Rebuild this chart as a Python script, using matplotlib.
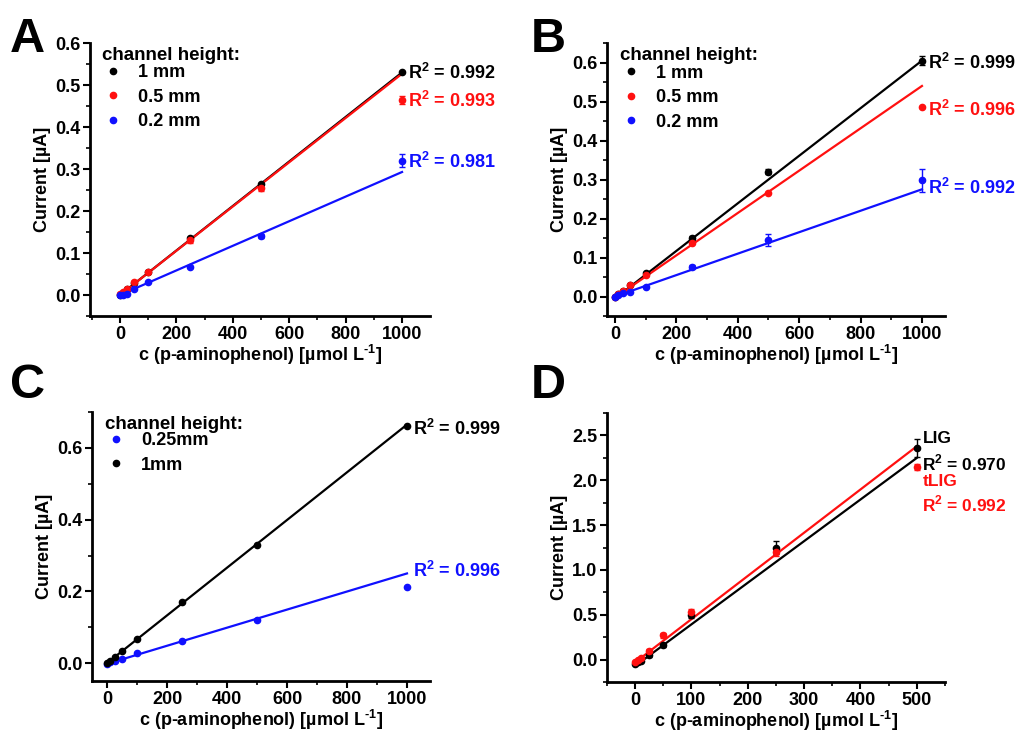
import matplotlib
matplotlib.use("Agg")
import matplotlib.pyplot as plt
from matplotlib.ticker import MultipleLocator, AutoMinorLocator
import numpy as np

plt.rcParams['font.family'] = ['Liberation Sans', 'DejaVu Sans']
plt.rcParams['font.weight'] = 'bold'
plt.rcParams['axes.labelweight'] = 'bold'
plt.rcParams['mathtext.fontset'] = 'custom'
plt.rcParams['mathtext.rm'] = 'Liberation Sans:bold'
plt.rcParams['mathtext.bf'] = 'Liberation Sans:bold'

# concentrations (umol/L)
conc = [0, 10, 25, 50, 100, 250, 500, 1000]
conc_d = [0, 5, 10, 25, 50, 100, 250, 500]

# panel A: channel heights 1 / 0.5 / 0.2 mm
a_1mm = [0.001, 0.006, 0.014, 0.028, 0.055, 0.135, 0.265, 0.530]
a_05mm = [0.002, 0.008, 0.015, 0.030, 0.055, 0.130, 0.255, 0.465]
a_02mm = [0.000, 0.000, 0.003, 0.015, 0.030, 0.067, 0.140, 0.320]
a_err_05 = [0, 0, 0, 0, 0, 0.005, 0.008, 0.010]
a_err_02 = [0, 0, 0, 0, 0, 0, 0.005, 0.016]
a_fit = [(0.0, 0.000530), (0.0, 0.000527), (0.0, 0.000293)]
a_r2 = ['0.992', '0.993', '0.981']

# panel B
b_1mm = [0.000, 0.006, 0.015, 0.030, 0.060, 0.150, 0.320, 0.605]
b_05mm = [0.000, 0.006, 0.015, 0.030, 0.055, 0.138, 0.265, 0.485]
b_02mm = [0.000, 0.004, 0.008, 0.012, 0.025, 0.075, 0.145, 0.298]
b_err_1 = [0, 0, 0, 0, 0, 0.005, 0.006, 0.012]
b_err_02 = [0, 0, 0, 0, 0, 0.005, 0.016, 0.030]
b_fit = [(-0.005, 0.000610), (-0.003, 0.000543), (0.0, 0.000275)]
b_r2 = ['0.999', '0.996', '0.992']

# panel C: 0.25 mm / 1 mm
c_025mm = [-0.003, 0.003, 0.006, 0.012, 0.027, 0.062, 0.120, 0.213]
c_1mm = [0.000, 0.007, 0.017, 0.035, 0.068, 0.170, 0.330, 0.660]
c_fit = [(-0.002, 0.000252), (0.0, 0.000665)]
c_r2 = ['0.996', '0.999']

# panel D: LIG / tLIG
d_lig = [-0.05, -0.03, -0.02, 0.05, 0.16, 0.50, 1.25, 2.36]
d_tlig = [-0.03, 0.00, 0.02, 0.10, 0.27, 0.53, 1.20, 2.15]
d_err_lig = [0, 0, 0, 0.02, 0.02, 0.03, 0.07, 0.10]
d_err_tlig = [0, 0, 0, 0.02, 0.03, 0.04, 0.04, 0.03]
d_fit = [(-0.07, 0.00464), (-0.03, 0.00482)]
d_r2 = ['0.970', '0.992']

BLACK, RED, BLUE = 'black', '#ff1010', '#1010ff'
FS = 13

fig = plt.figure(figsize=(10.16, 7.35), dpi=100)


def style_axes(ax, xlim, ylim, xmaj, ymaj):
    ax.set_xlim(*xlim)
    ax.set_ylim(*ylim)
    ax.spines['top'].set_visible(False)
    ax.spines['right'].set_visible(False)
    for s in ('left', 'bottom'):
        ax.spines[s].set_linewidth(2)
    ax.xaxis.set_major_locator(MultipleLocator(xmaj))
    ax.xaxis.set_minor_locator(AutoMinorLocator(2))
    ax.yaxis.set_major_locator(MultipleLocator(ymaj))
    ax.yaxis.set_minor_locator(AutoMinorLocator(2))
    ax.yaxis.set_major_formatter(plt.FormatStrFormatter('%.1f'))
    ax.tick_params(which='major', length=5, width=1.5, labelsize=FS, pad=2)
    ax.tick_params(which='minor', length=3, width=1.2)
    ax.set_xlabel(r'c (p-aminophenol) [µmol L$^{\text{-1}}$]', fontsize=FS, labelpad=0)
    ax.set_ylabel('Current [µA]', fontsize=FS, labelpad=3)


def series(ax, x, y, color, label=None, yerr=None, fit=None, xmax=1000):
    if yerr is not None:
        ax.errorbar(x, y, yerr=yerr, fmt='none', ecolor=color,
                    elinewidth=1, capsize=2, zorder=3)
    ax.plot(x, y, 'o', ms=4.5, color=color, label=label, zorder=4)
    if fit is not None:
        xs = np.array([0, xmax])
        ax.plot(xs, fit[0] + fit[1] * xs, color=color, lw=1.6, zorder=2)


def legend(ax, tx, ty, ly):
    ax.text(tx, ty, 'channel height:', transform=ax.transAxes, fontsize=FS + 0.5,
            fontweight='bold', ha='left', va='center')
    return ax.legend(loc='upper left', bbox_to_anchor=(tx, ly), frameon=False,
                     handletextpad=0.8, borderaxespad=0, borderpad=0,
                     labelspacing=0.42, fontsize=FS, handlelength=1.2)


def r2(ax, x, y, val, color, fs=FS):
    ax.text(x, y, r'R$^{\text{2}}$ = ' + val, color=color, fontsize=fs,
            fontweight='bold', ha='left', va='center')


# A
axA = fig.add_axes([0.0886, 0.570, 0.3346, 0.3714])
series(axA, conc, a_1mm, BLACK, '1 mm', fit=a_fit[0])
series(axA, conc, a_05mm, RED, '0.5 mm', yerr=a_err_05, fit=a_fit[1])
series(axA, conc, a_02mm, BLUE, '0.2 mm', yerr=a_err_02, fit=a_fit[2])
style_axes(axA, (-106, 1099), (-0.05, 0.6), 200, 0.1)
legend(axA, 0.035, 0.956, 0.923)
r2(axA, 1020, 0.530, a_r2[0], BLACK)
r2(axA, 1020, 0.462, a_r2[1], RED)
r2(axA, 1020, 0.316, a_r2[2], BLUE)

# B
axB = fig.add_axes([0.5974, 0.570, 0.3327, 0.3714])
series(axB, conc, b_1mm, BLACK, '1 mm', yerr=b_err_1, fit=b_fit[0])
series(axB, conc, b_05mm, RED, '0.5 mm', fit=b_fit[1])
series(axB, conc, b_02mm, BLUE, '0.2 mm', yerr=b_err_02, fit=b_fit[2])
style_axes(axB, (-26, 1075), (-0.05, 0.65), 200, 0.1)
legend(axB, 0.038, 0.953, 0.921)
r2(axB, 1019, 0.600, b_r2[0], BLACK)
r2(axB, 1019, 0.479, b_r2[1], RED)
r2(axB, 1019, 0.278, b_r2[2], BLUE)

# C
axC = fig.add_axes([0.0906, 0.0734, 0.3327, 0.3660])
series(axC, conc, c_025mm, BLUE, '0.25mm', fit=c_fit[0])
series(axC, conc, c_1mm, BLACK, '1mm', fit=c_fit[1])
style_axes(axC, (-50, 1077), (-0.05, 0.7), 200, 0.2)
legend(axC, 0.038, 0.953, 0.926)
r2(axC, 1020, 0.652, c_r2[1], BLACK)
r2(axC, 1020, 0.257, c_r2[0], BLUE)

# D
axD = fig.add_axes([0.5974, 0.072, 0.3327, 0.366])
series(axD, conc_d, d_lig, BLACK, 'LIG', yerr=d_err_lig, fit=d_fit[0], xmax=500)
series(axD, conc_d, d_tlig, RED, 'tLIG', yerr=d_err_tlig, fit=d_fit[1], xmax=500)
style_axes(axD, (-50, 550), (-0.25, 2.75), 100, 0.5)
axD.text(510, 2.47, 'LIG', color=BLACK, fontsize=FS - 0.5, fontweight='bold', va='center')
r2(axD, 510, 2.19, d_r2[0], BLACK, fs=FS - 0.5)
axD.text(510, 1.99, 'tLIG', color=RED, fontsize=FS - 0.5, fontweight='bold', va='center')
r2(axD, 510, 1.74, d_r2[1], RED, fs=FS - 0.5)

# panel letters
for lbl, (x, y) in zip('ABCD', [(0.010, 0.929), (0.522, 0.929), (0.010, 0.459), (0.522, 0.459)]):
    fig.text(x, y, lbl, fontsize=35, fontweight='bold', va='baseline', ha='left')

fig.savefig('out.png', dpi=100)
